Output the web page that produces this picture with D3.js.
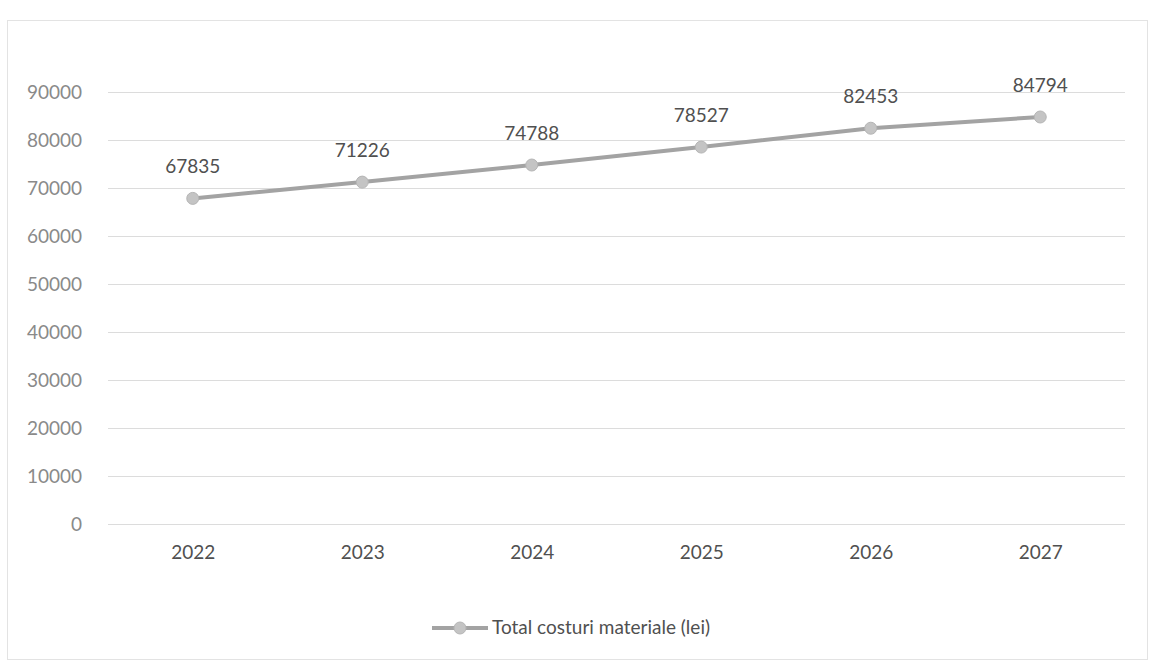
<!DOCTYPE html>
<html><head><meta charset="utf-8">
<script src="https://cdn.jsdelivr.net/npm/d3@7"></script>
<style>body{margin:0;background:#fff;} svg{display:block;}</style>
</head><body>
<svg id="c" width="1152" height="663"></svg>
<script>
const years = ["2022","2023","2024","2025","2026","2027"];
const values = [67835, 71226, 74788, 78527, 82453, 84794];
const yTicks = [0,10000,20000,30000,40000,50000,60000,70000,80000,90000];
const seriesName = "Total costuri materiale (lei)";

const svg = d3.select("#c");
const font = "Lato, 'Open Sans', sans-serif";

svg.append("rect").attr("x",7.5).attr("y",20.5).attr("width",1140).attr("height",639)
  .attr("fill","#fff").attr("stroke","#e3e3e3");

const x = d3.scalePoint().domain(years).range([108,1125]).padding(0.5);
const y = d3.scaleLinear().domain([0,90000]).range([524,92]);

const gy = svg.append("g").attr("transform","translate(108,0)")
  .call(d3.axisLeft(y).tickValues(yTicks).tickSize(-1017).tickFormat(d3.format("d")).tickPadding(26));
gy.select(".domain").remove();
gy.selectAll(".tick line").attr("stroke","#dcdcdc").attr("stroke-width",1);
gy.selectAll(".tick text").attr("fill","#8a8a8a").style("font-family",font).style("font-size","19px");

const gx = svg.append("g").attr("transform","translate(0,524)")
  .call(d3.axisBottom(x).tickSize(0).tickPadding(22));
gx.select(".domain").remove();
gx.selectAll(".tick text").attr("fill","#505050").style("font-family",font).style("font-size","19px");

const line = d3.line().x((d,i)=>x(years[i])).y(d=>y(d));
svg.append("path").datum(values).attr("d",line).attr("fill","none")
  .attr("stroke","#a3a3a3").attr("stroke-width",4);
svg.selectAll("circle.pt").data(values).join("circle").attr("class","pt")
  .attr("cx",(d,i)=>x(years[i])).attr("cy",d=>y(d)).attr("r",6)
  .attr("fill","#c4c4c4").attr("stroke","#b5b5b5").attr("stroke-width",1);
svg.selectAll("text.lbl").data(values).join("text").attr("class","lbl")
  .attr("x",(d,i)=>x(years[i])).attr("y",d=>y(d)-25)
  .attr("text-anchor","middle").attr("fill","#505050")
  .style("font-family",font).style("font-size","19px").text(d=>d);

const lg = svg.append("g").attr("transform","translate(432,628)");
lg.append("line").attr("x1",0).attr("x2",56).attr("y1",0).attr("y2",0)
  .attr("stroke","#a3a3a3").attr("stroke-width",4);
lg.append("circle").attr("cx",28).attr("cy",0).attr("r",6).attr("fill","#c4c4c4").attr("stroke","#b5b5b5");
lg.append("text").attr("x",60).attr("y",6).attr("fill","#505050")
  .style("font-family",font).style("font-size","19px").text(seriesName);
</script>
</body></html>
